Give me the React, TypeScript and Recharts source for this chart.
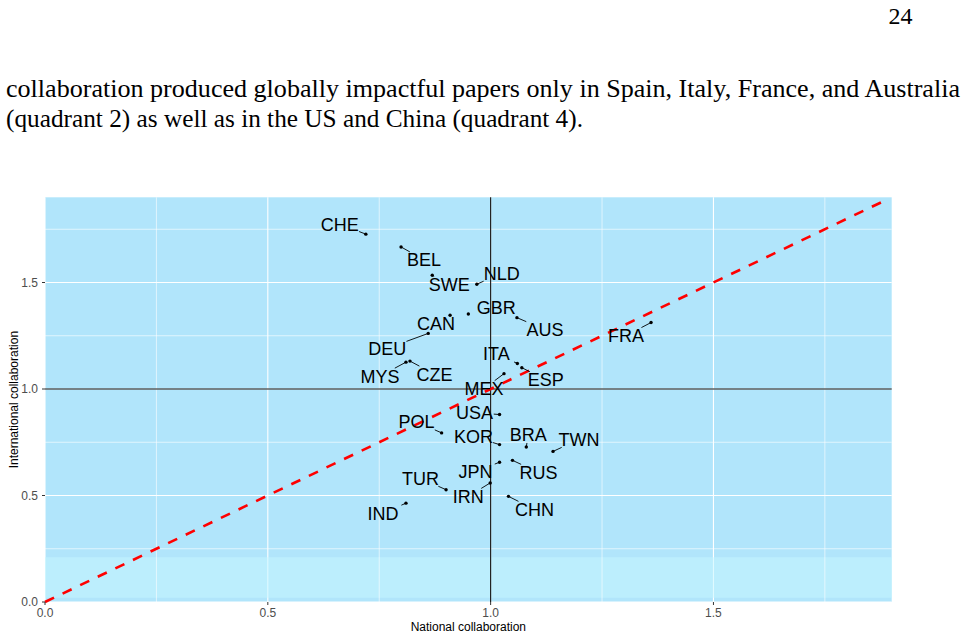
import React from "react"
import {
  ScatterChart,
  Scatter,
  XAxis,
  YAxis,
  CartesianGrid,
  ReferenceLine,
  ReferenceArea,
} from "recharts"

// country codes, national vs international collaboration impact
const codes = ["CHE", "BEL", "SWE", "NLD", "CAN", "GBR", "AUS", "FRA", "DEU", "ITA", "ESP", "MYS", "CZE", "MEX", "USA", "POL", "KOR", "BRA", "TWN", "RUS", "JPN", "IRN", "CHN", "TUR", "IND"]
const national = [0.72, 0.799, 0.869, 0.969, 0.909, 0.95, 1.059, 1.36, 0.86, 1.06, 1.07, 0.81, 0.819, 1.03, 1.02, 0.89, 1.02, 1.08, 1.14, 1.049, 1.02, 0.999, 1.04, 0.9, 0.81]
const international = [1.727, 1.667, 1.534, 1.492, 1.346, 1.352, 1.335, 1.312, 1.261, 1.12, 1.1, 1.126, 1.131, 1.072, 0.88, 0.794, 0.739, 0.728, 0.707, 0.665, 0.656, 0.559, 0.496, 0.527, 0.464]

const axisTicks = [0, 0.5, 1, 1.5]
const minorTicks = [0.25, 0.75, 1.25, 1.75]

// where the repelled labels ended up, relative to their point (px)
const labelNudge: Record<string, [number, number]> = {
  CHE: [-26, -10], BEL: [23, 13], SWE: [17, 9], NLD: [25, -11], CAN: [-14, 8],
  GBR: [28, -7], AUS: [28, 12], FRA: [-25, 13], DEU: [-41, 15], ITA: [-21, -9.5],
  ESP: [24, 12], MYS: [-26, 14], CZE: [24.5, 13], MEX: [-20, 15], USA: [-25, -2],
  POL: [-25, -11], KOR: [-26, -8], BRA: [2, -12], TWN: [26, -12], RUS: [26, 12],
  JPN: [-24, 9], IRN: [-22, 13.5], CHN: [26, 13], TUR: [-25.5, -11.5], IND: [-23, 10],
}
const noSegment = ["GBR"]

const data = codes.map((code, i) => ({ code, x: national[i], y: international[i] }))

const SANS = "'Liberation Sans', Arial, sans-serif"
const SERIF = "'Liberation Serif', 'Times New Roman', serif"

type ShapeProps = {
  cx?: number
  cy?: number
  payload?: { code: string }
}

const LabeledPoint: React.FC<ShapeProps> = ({ cx = 0, cy = 0, payload }) => {
  const code = payload?.code ?? ""
  const [ox, oy] = labelNudge[code] ?? [0, 0]
  const lx = cx + ox
  const ly = cy + oy
  const hw = code.length * 6.4
  const hh = 8
  const dx = cx - lx
  const dy = cy - ly
  const t = Math.min(dx ? hw / Math.abs(dx) : Infinity, dy ? hh / Math.abs(dy) : Infinity)
  const ex = lx + t * dx
  const ey = ly + t * dy
  const segLen = Math.hypot(cx - ex, cy - ey)
  const showSeg = t < 1 && segLen > 1.5 && !noSegment.includes(code)
  return (
    <g>
      {showSeg && <line x1={ex} y1={ey} x2={cx} y2={cy} stroke="#000" strokeWidth={0.9} />}
      <circle cx={cx} cy={cy} r={1.7} fill="#000" />
      <text x={lx} y={ly + 6.5} textAnchor="middle" fontSize={18} fontFamily={SANS} fill="#000">
        {code}
      </text>
    </g>
  )
}

const XTitle = ({ viewBox }: any) => {
  const vb = viewBox ?? { x: 45, width: 846.7, y: 602 }
  return (
    <text x={vb.x + vb.width / 2} y={630.5} textAnchor="middle" fontSize={12} fontFamily={SANS} fill="#000">
      National collaboration
    </text>
  )
}

const YTitle = ({ viewBox }: any) => {
  const vb = viewBox ?? { y: 197.3, height: 404.7 }
  const x = 18
  const y = vb.y + vb.height / 2
  return (
    <text x={x} y={y} transform={`rotate(-90 ${x} ${y})`} textAnchor="middle" fontSize={12} fontFamily={SANS} fill="#000">
      International collaboration
    </text>
  )
}

export default function App() {
  return (
    <div style={{ position: "absolute", left: 0, top: 0, width: 968, height: 638, background: "#fff" }}>
      <svg width={968} height={140} style={{ position: "absolute", left: 0, top: 0 }}>
        <text x={912.5} y={23.5} textAnchor="end" fontSize={24} fontFamily={SERIF} fill="#000">
          24
        </text>
        <text x={6} y={96.7} fontSize={25.5} fontFamily={SERIF} fill="#000" textLength={954} lengthAdjust="spacingAndGlyphs">
          collaboration produced globally impactful papers only in Spain, Italy, France, and Australia
        </text>
        <text x={6} y={126.7} fontSize={25.5} fontFamily={SERIF} fill="#000" textLength={577} lengthAdjust="spacingAndGlyphs">
          (quadrant 2) as well as in the US and China (quadrant 4).
        </text>
      </svg>
      <div style={{ position: "absolute", left: 0, top: 0 }}>
        <ScatterChart width={968} height={638} margin={{ top: 197.3, right: 76.3, left: 0, bottom: 0 }}>
          <CartesianGrid
            fill="#b1e5fb"
            fillOpacity={1}
            stroke="#ffffff"
            strokeWidth={1.1}
            horizontalValues={axisTicks}
            verticalValues={axisTicks}
          />
          {minorTicks.map((v) => (
            <ReferenceLine key={"mx" + v} x={v} stroke="#ffffff" strokeWidth={0.6} />
          ))}
          {minorTicks.map((v) => (
            <ReferenceLine key={"my" + v} y={v} stroke="#ffffff" strokeWidth={0.6} />
          ))}
          <ReferenceArea x1={0} x2={1.9} y1={0.02} y2={0.21} fill="#c4f6ff" fillOpacity={0.55} stroke="none" />
          <XAxis
            type="number"
            dataKey="x"
            domain={[0, 1.9]}
            ticks={axisTicks}
            allowDataOverflow
            height={36}
            axisLine={false}
            tickSize={3}
            tickMargin={3}
            tickLine={{ stroke: "#333", strokeWidth: 1 }}
            tick={{ fill: "#4d4d4d", fontSize: 12, fontFamily: SANS }}
            tickFormatter={(v: number) => v.toFixed(1)}
            label={<XTitle />}
          />
          <YAxis
            type="number"
            dataKey="y"
            domain={[0, 1.9]}
            ticks={axisTicks}
            allowDataOverflow
            width={45}
            axisLine={false}
            tickSize={3}
            tickMargin={4}
            tickLine={{ stroke: "#333", strokeWidth: 1 }}
            tick={{ fill: "#4d4d4d", fontSize: 12, fontFamily: SANS }}
            tickFormatter={(v: number) => v.toFixed(1)}
            label={<YTitle />}
          />
          <ReferenceLine x={1} stroke="#111" strokeWidth={1.1} />
          <ReferenceLine y={1} stroke="#111" strokeWidth={1.1} />
          <ReferenceLine
            segment={[{ x: 0, y: 0 }, { x: 1.888, y: 1.888 }]}
            stroke="#ff0000"
            strokeWidth={2.6}
            strokeDasharray="10 9.5"
          />
          <Scatter data={data} shape={<LabeledPoint />} isAnimationActive={false} />
        </ScatterChart>
      </div>
    </div>
  )
}
